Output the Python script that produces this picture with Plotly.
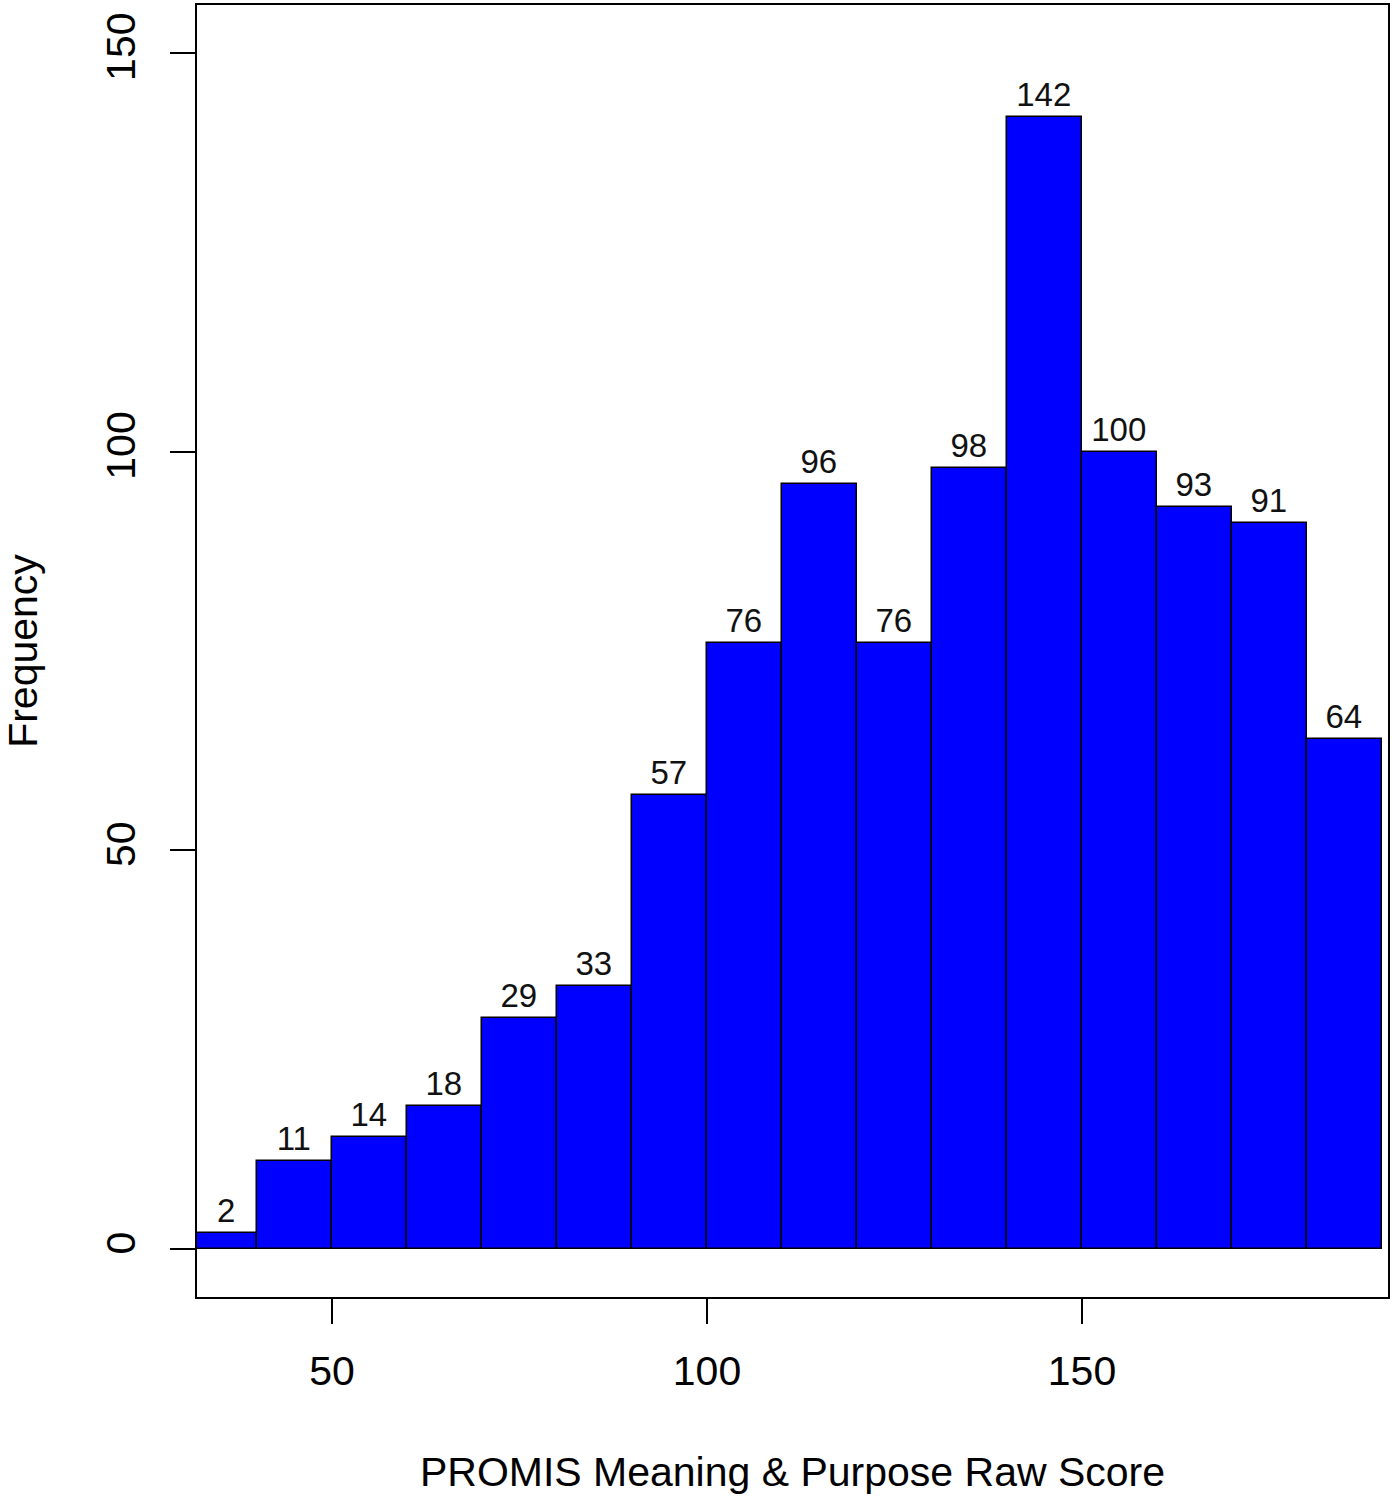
import plotly.graph_objects as go

# histogram bins (edges) and counts
bin_edges = [32, 40, 50, 60, 70, 80, 90, 100, 110, 120, 130, 140, 150, 160, 170, 180, 190]
counts = [2, 11, 14, 18, 29, 33, 57, 76, 96, 76, 98, 142, 100, 93, 91, 64]
x_ticks = [50, 100, 150]
y_ticks = [0, 50, 100, 150]

centers = [(a + b) / 2 for a, b in zip(bin_edges[:-1], bin_edges[1:])]
widths = [b - a for a, b in zip(bin_edges[:-1], bin_edges[1:])]

FONT = "Liberation Sans, Arial, sans-serif"

fig = go.Figure(
    go.Bar(
        x=centers,
        y=counts,
        width=widths,
        marker=dict(color="#0000FF", line=dict(color="black", width=1.5)),
        text=[str(c) for c in counts],
        textposition="outside",
        textfont=dict(size=33, color="#111111", family=FONT),
        cliponaxis=False,
        showlegend=False,
    )
)

axis_common = dict(
    showgrid=False,
    zeroline=False,
    showline=True,
    mirror=True,
    linecolor="black",
    linewidth=2,
    ticks="outside",
    ticklen=25,
    tickwidth=2,
    tickcolor="black",
    tickfont=dict(size=41, color="black", family=FONT),
    automargin=False,
)

fig.update_xaxes(
    range=[32, 190.8],
    tickvals=x_ticks,
    ticklabelstandoff=12,
    title=dict(text="PROMIS Meaning & Purpose Raw Score", font=dict(size=41, color="black", family=FONT), standoff=64),
    **axis_common,
)
fig.update_yaxes(
    range=[-6, 156],
    tickvals=y_ticks,
    tickangle=-90,
    ticklabelstandoff=19,
    title=dict(text="Frequency", font=dict(size=41, color="black", family=FONT), standoff=56),
    **axis_common,
)

fig.update_layout(
    width=1395,
    height=1500,
    margin=dict(l=197, r=7, t=5, b=203),
    plot_bgcolor="white",
    paper_bgcolor="white",
    bargap=0,
)

# drop the browser's default page margin so the figure sits at the top-left corner
fig.write_html(
    "out.html",
    config={"displayModeBar": False},
    post_script="document.body.style.margin = '0';",
)
